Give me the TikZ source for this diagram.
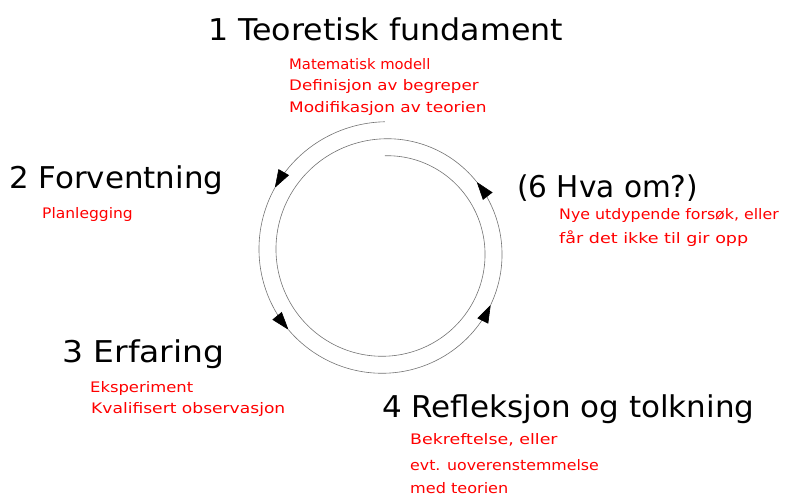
\documentclass[tikz,border=0pt]{standalone}
\usepackage{fontspec}
\usepackage{graphicx}
\setmainfont{DejaVu Sans}
\usetikzlibrary{arrows.meta}
\definecolor{redtxt}{RGB}{255,0,0}
\tikzset{
  title/.style={anchor=base west, inner sep=0pt, font=\fontsize{30}{34}\selectfont, text=black},
  sub/.style={anchor=base west, inner sep=0pt, font=\fontsize{14.5}{17}\selectfont, text=redtxt},
  spiral/.style={draw=black!55, line width=0.6pt},
  arr/.style={spiral, -{Triangle[length=18pt,width=12pt,fill=black,color=black]}}
}
\newcommand{\spx}[1]{384.75-(130-17*(#1)/360)*sin(#1)}
\newcommand{\spy}[1]{251.75-(130-17*(#1)/360)*cos(#1)}
\newcommand{\sx}[2]{\scalebox{#1}[1]{#2}}
\begin{document}
\begin{tikzpicture}[x=1pt,y=-1pt]
\useasboundingbox (0,0) rectangle (795,496);
% titles
\node[title] (t1) at (208,40) {\sx{1.057}{1 Teoretisk fundament}};
\node[title] (t2) at (9,188) {\sx{1.03}{2 Forventning}};
\node[title] (t3) at (62,362) {\sx{1.10}{3 Erfaring}};
\node[title] (t4) at (382,417) {\sx{1.033}{4 Refleksjon og tolkning}};
\node[title] (t6) at (517,197) {\sx{0.985}{(6 Hva om?)}};
% sublabels
\node[sub] (s1a) at (289,69) {\sx{1.02}{Matematisk modell}};
\node[sub] (s1b) at (289,90.5) {\sx{1.15}{Definisjon av begreper}};
\node[sub] (s1c) at (289,112) {\sx{1.17}{Modifikasjon av teorien}};
\node[sub] (s2a) at (42,218) {\sx{1.07}{Planlegging}};
\node[sub] (s3a) at (90,392) {\sx{1.13}{Eksperiment}};
\node[sub] (s3b) at (91,413) {\sx{1.18}{Kvalifisert observasjon}};
\node[sub] (s4a) at (410,444) {\sx{1.20}{Bekreftelse, eller}};
\node[sub] (s4b) at (410,470) {\sx{1.09}{evt. uoverenstemmelse}};
\node[sub] (s4c) at (410,493) {\sx{1.11}{med teorien}};
\node[sub] (s6a) at (559,219) {\sx{1.09}{Nye utdypende forsøk, eller}};
\node[sub] (s6b) at (559,243) {\sx{1.21}{får det ikke til gir opp}};
% spiral
\draw[arr] plot[domain=0:59.8, samples=40, variable=\t] ({\spx{\t}},{\spy{\t}});
\draw[arr] plot[domain=59.8:129, samples=40, variable=\t] ({\spx{\t}},{\spy{\t}});
\draw[arr] plot[domain=129:243.4, samples=60, variable=\t] ({\spx{\t}},{\spy{\t}});
\draw[arr] plot[domain=243.4:307.2, samples=40, variable=\t] ({\spx{\t}},{\spy{\t}});
\draw[spiral] plot[domain=307.2:720, samples=200, variable=\t] ({\spx{\t}},{\spy{\t}});
\end{tikzpicture}
\end{document}
